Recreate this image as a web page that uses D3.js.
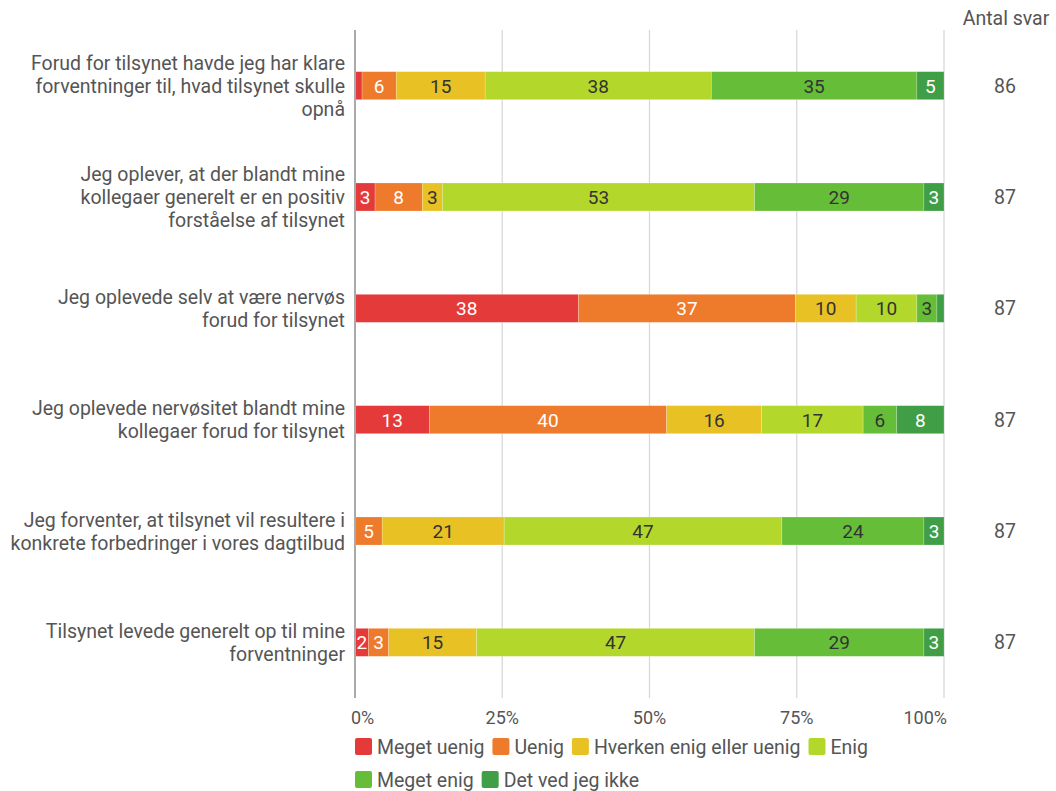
<!DOCTYPE html>
<html><head><meta charset="utf-8">
<script src="https://cdn.jsdelivr.net/npm/d3@7"></script>
<style>body{margin:0;background:#fff;font-family:Roboto,"Noto Sans",sans-serif;}</style>
</head><body><svg id="c" width="1056" height="791"></svg>
<script>
const categories = [
  "Forud for tilsynet havde jeg har klare\nforventninger til, hvad tilsynet skulle\nopnå ",
  "Jeg oplever, at der blandt mine\nkollegaer generelt er en positiv\nforståelse af tilsynet",
  "Jeg oplevede selv at være nervøs\nforud for tilsynet",
  "Jeg oplevede nervøsitet blandt mine\nkollegaer forud for tilsynet",
  "Jeg forventer, at tilsynet vil resultere i\nkonkrete forbedringer i vores dagtilbud",
  "Tilsynet levede generelt op til mine\nforventninger"
];
const seriesNames = ["Meget uenig","Uenig","Hverken enig eller uenig","Enig","Meget enig","Det ved jeg ikke"];
// percentages per question (labels are rounded)
const megetUenig = [1.2, 3.4, 37.9, 12.6, 0, 2.3];
const uenig      = [5.8, 8.0, 36.8, 40.2, 4.6, 3.4];
const hverken    = [15.1, 3.4, 10.3, 16.1, 20.7, 14.9];
const enig       = [38.4, 52.9, 10.3, 17.2, 47.1, 47.1];
const megetEnig  = [34.9, 28.7, 3.4, 5.7, 24.1, 28.7];
const vedIkke    = [4.6, 3.4, 1.2, 8.0, 3.4, 3.4];
const antalSvar  = [86, 87, 87, 87, 87, 87];
const tickValues = [0, 25, 50, 75, 100];
const colors = ["#e53a3a","#ee7a2b","#e8c124","#b3d82b","#66be38","#3f9e46"];
const textColors = ["#fff","#fff","#333","#333","#333","#fff"];

const series = [megetUenig, uenig, hverken, enig, megetEnig, vedIkke];
const svg = d3.select("#c");
const x = d3.scaleLinear().domain([0,100]).range([355,944]);
const y = d3.scaleBand().domain(d3.range(categories.length)).range([30,698]);
const barH = 28;
const txt = "#555";
const fs = 19.5;

// gridlines
svg.append("g").selectAll("line").data(tickValues.slice(1)).join("line")
  .attr("x1", d=>x(d)).attr("x2", d=>x(d)).attr("y1", 30).attr("y2", 698)
  .attr("stroke","#d9d9d9").attr("stroke-width",1.3);

// stacked bars
const rows = categories.map((c,i)=>{
  let acc=0;
  return series.map((s,k)=>{ const o={row:i,k,v:s[i],x0:acc,x1:acc+s[i]}; acc+=s[i]; return o;});
});
const tot = rows.map(r=>d3.sum(r,d=>d.v));
const g = svg.append("g");
rows.forEach((r,i)=>{
  const sc = 100/tot[i];
  r.forEach(d=>{
    if(d.v<=0) return;
    const xa=x(d.x0*sc), xb=x(d.x1*sc);
    const yc=y(i)+y.bandwidth()/2;
    g.append("rect").attr("x",xa).attr("y",yc-barH/2).attr("width",xb-xa).attr("height",barH)
      .attr("fill",colors[d.k]).attr("stroke","rgba(255,255,255,0.35)").attr("stroke-width",0.6);
    if(xb-xa>=10){
      g.append("text").attr("x",(xa+xb)/2).attr("y",yc).attr("dy","0.36em")
        .attr("text-anchor","middle").attr("font-size",19).attr("fill",textColors[d.k]).text(Math.round(d.v));
    }
  });
});

// axis line at 0
svg.append("line").attr("x1",x(0)).attr("x2",x(0)).attr("y1",30).attr("y2",698)
  .attr("stroke","#aaa").attr("stroke-width",2);

// tick labels (edge labels kept inside the plot)
const nT = tickValues.length;
svg.append("g").selectAll("text").data(tickValues).join("text")
  .attr("x",(d,i)=>x(d)+(i===0?-4:(i===nT-1?3:0))).attr("y",718).attr("dy","0.36em")
  .attr("text-anchor",(d,i)=>i===0?"start":(i===nT-1?"end":"middle"))
  .attr("font-size",18).attr("fill",txt).text(d=>d+"%");

// category labels
categories.forEach((c,i)=>{
  const lines=c.split("\n");
  const yc=y(i)+y.bandwidth()/2;
  const lh=23;
  const t=svg.append("text").attr("text-anchor","end").attr("font-size",fs).attr("fill",txt);
  lines.forEach((l,j)=>{
    t.append("tspan").attr("x",345).attr("y",yc+(j-(lines.length-1)/2)*lh).attr("dy","0.36em").text(l);
  });
});

// Antal svar
svg.append("text").attr("x",1006).attr("y",18).attr("dy","0.36em").attr("text-anchor","middle")
  .attr("font-size",fs).attr("fill",txt).text("Antal svar");
svg.append("g").selectAll("text").data(antalSvar).join("text")
  .attr("x",1005).attr("y",(d,i)=>y(i)+y.bandwidth()/2).attr("dy","0.36em").attr("text-anchor","middle")
  .attr("font-size",fs).attr("fill",txt).text(d=>d);

// legend
const lg=svg.append("g");
let lx=355, ly=747;
seriesNames.forEach((n,k)=>{
  const item=lg.append("g");
  item.append("rect").attr("x",0).attr("y",-9).attr("width",17).attr("height",17).attr("rx",2).attr("fill",colors[k]);
  const t=item.append("text").attr("x",22).attr("y",0).attr("dy","0.36em").attr("font-size",fs).attr("fill",txt).text(n);
  const w=22+t.node().getComputedTextLength();
  if(lx+w>944){ lx=355; ly+=33; }
  item.attr("transform",`translate(${lx},${ly})`);
  lx+=w+8;
});
</script></body></html>
